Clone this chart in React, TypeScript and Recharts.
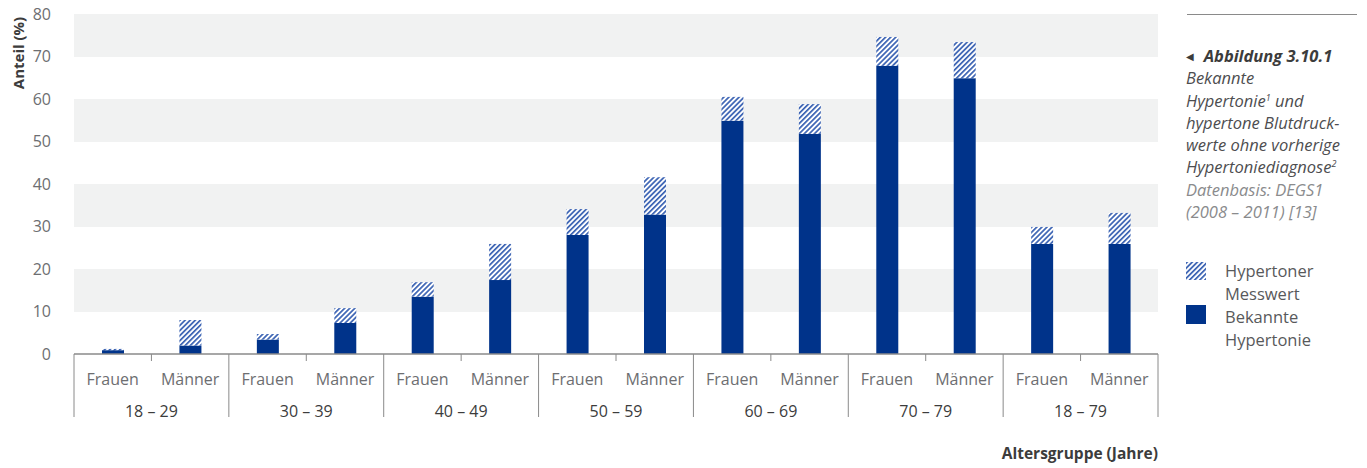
import React from 'react';
import { BarChart, Bar, XAxis, YAxis, CartesianGrid, Legend } from 'recharts';

const ageGroups = ['18 – 29', '30 – 39', '40 – 49', '50 – 59', '60 – 69', '70 – 79', '18 – 79'];
const sexes = ['Frauen', 'Männer'];
// Bekannte Hypertonie, Frauen / Männer je Altersgruppe
const knownWomen = [0.9, 3.4, 13.5, 28.0, 54.9, 67.8, 25.9];
const knownMen = [2.0, 7.3, 17.4, 32.8, 51.8, 64.9, 25.9];
// Gesamtanteil inkl. hypertoner Messwerte
const totalWomen = [1.2, 4.7, 16.9, 34.1, 60.5, 74.6, 29.9];
const totalMen = [8.0, 10.8, 25.9, 41.6, 58.8, 73.4, 33.2];
const yTicks = [0, 10, 20, 30, 40, 50, 60, 70, 80];

const round1 = (v: number) => Math.round(v * 10) / 10;

const data = ageGroups.flatMap((g, i) => [
  { key: `${g}-F`, group: g, sex: sexes[0], bekannt: knownWomen[i], messwert: round1(totalWomen[i] - knownWomen[i]) },
  { key: `${g}-M`, group: g, sex: sexes[1], bekannt: knownMen[i], messwert: round1(totalMen[i] - knownMen[i]) },
]);

const W = 1367;
const H = 468;
const PLOT_LEFT = 74;
const PLOT_RIGHT = 1158;
const SLOT = (PLOT_RIGHT - PLOT_LEFT) / data.length;
const FONT = '"Open Sans", "DejaVu Sans", sans-serif';
const NAVY = '#00338a';
const GRID_GREY = '#f1f2f2';
const LINE_GREY = '#8a8a8a';

const XTick = (props: any) => {
  const { x, y, index } = props;
  const row = data[index];
  if (!row) return null;
  const isFirst = row.sex === 'Frauen';
  const isLast = index === data.length - 1;
  return (
    <g>
      <text x={x} y={y + 25} dy="0.35em" textAnchor="middle" fill="#6d6e71" fontSize={16} fontFamily={FONT}>
        {row.sex}
      </text>
      {isFirst && (
        <>
          <line x1={x - SLOT / 2} x2={x - SLOT / 2} y1={y} y2={y + 63} stroke={LINE_GREY} strokeWidth={1} />
          <line x1={x + SLOT / 2} x2={x + SLOT / 2} y1={y} y2={y + 7} stroke={LINE_GREY} strokeWidth={1} />
          <text x={x + SLOT / 2} y={y + 57} dy="0.35em" textAnchor="middle" fill="#3c3c3c" fontSize={16} fontFamily={FONT}>
            {row.group}
          </text>
        </>
      )}
      {isLast && <line x1={x + SLOT / 2} x2={x + SLOT / 2} y1={y} y2={y + 63} stroke={LINE_GREY} strokeWidth={1} />}
    </g>
  );
};

const YLabel = () => (
  <text
    x={18}
    y={53}
    transform="rotate(-90 18 53)"
    textAnchor="middle"
    dominantBaseline="central"
    fill="#3c3c3c"
    fontSize={15}
    fontWeight={700}
    fontFamily={FONT}
  >
    Anteil (%)
  </text>
);

const LegendBox = () => (
  <div style={{ fontFamily: FONT, fontSize: 16.5, color: '#58595b', lineHeight: '23px', textAlign: 'left' }}>
    <div style={{ display: 'flex', alignItems: 'flex-start' }}>
      <svg width={20} height={18} style={{ marginTop: 3, marginRight: 19, flex: 'none' }}>
        <rect width={20} height={18} fill="url(#hatch)" />
      </svg>
      <div>
        Hypertoner
        <br />
        Messwert
      </div>
    </div>
    <div style={{ display: 'flex', alignItems: 'flex-start' }}>
      <div style={{ width: 20, height: 19, background: NAVY, marginRight: 19, flex: 'none' }} />
      <div>
        Bekannte
        <br />
        Hypertonie
      </div>
    </div>
  </div>
);

const sup = { fontSize: 9, verticalAlign: 'super', lineHeight: 0 } as const;

export default function App() {
  return (
    <div style={{ position: 'absolute', left: 0, top: 0, width: W, height: H, background: '#fff' }}>
      <BarChart
        width={W}
        height={H}
        data={data}
        margin={{ top: 14, right: W - PLOT_RIGHT, left: 0, bottom: 44 }}
        barSize={22}
      >
        <defs>
          <pattern id="hatch" patternUnits="userSpaceOnUse" width={3.6} height={3.6} patternTransform="rotate(45)">
            <rect width={3.6} height={3.6} fill="#ffffff" />
            <rect width={1.7} height={3.6} fill="#3a62b3" />
          </pattern>
        </defs>
        <CartesianGrid
          vertical={false}
          stroke="none"
          horizontalFill={[GRID_GREY, '#ffffff']}
          fillOpacity={1}
        />
        <YAxis
          width={PLOT_LEFT}
          domain={[0, 80]}
          ticks={yTicks}
          axisLine={false}
          tickLine={false}
          tickMargin={17}
          tick={{ fill: '#6d6e71', fontSize: 16, fontFamily: FONT }}
          label={<YLabel />}
        />
        <XAxis
          dataKey="key"
          height={70}
          interval={0}
          axisLine={{ stroke: LINE_GREY, strokeWidth: 1.5 }}
          tickLine={false}
          tickSize={0}
          tickMargin={0}
          tick={<XTick />}
        />
        <Legend
          layout="horizontal"
          verticalAlign="middle"
          align="center"
          wrapperStyle={{ left: 1186, top: 259, width: 175 }}
          content={() => <LegendBox />}
        />
        <Bar dataKey="bekannt" name="Bekannte Hypertonie" stackId="a" fill={NAVY} isAnimationActive={false} />
        <Bar dataKey="messwert" name="Hypertoner Messwert" stackId="a" fill="url(#hatch)" isAnimationActive={false} />
      </BarChart>

      <div
        style={{
          position: 'absolute',
          left: 980,
          width: PLOT_RIGHT - 980,
          top: 442,
          textAlign: 'right',
          fontFamily: FONT,
          fontSize: 15.5,
          fontWeight: 700,
          color: '#3c3c3c',
        }}
      >
        Altersgruppe (Jahre)
      </div>

      <div style={{ position: 'absolute', left: 1187, top: 14, width: 170, borderTop: `1px solid ${LINE_GREY}` }} />
      <div
        style={{
          position: 'absolute',
          left: 1186,
          top: 45,
          width: 181,
          fontFamily: FONT,
          fontSize: 16.5,
          fontStyle: 'italic',
          lineHeight: '22.3px',
          color: '#4d4d4f',
          whiteSpace: 'nowrap',
        }}
      >
        <div style={{ fontWeight: 700, color: '#3c3c3c' }}>
          <span style={{ fontSize: 10, fontStyle: 'normal', marginRight: 10, verticalAlign: 2 }}>◀</span>
          Abbildung 3.10.1
        </div>
        <div>Bekannte</div>
        <div>
          Hypertonie<span style={sup}>1</span> und
        </div>
        <div>hypertone Blutdruck-</div>
        <div>werte ohne vorherige</div>
        <div>
          Hypertoniediagnose<span style={sup}>2</span>
        </div>
        <div style={{ color: '#8a8b8d' }}>Datenbasis: DEGS1</div>
        <div style={{ color: '#8a8b8d' }}>(2008 – 2011) [13]</div>
      </div>
    </div>
  );
}
